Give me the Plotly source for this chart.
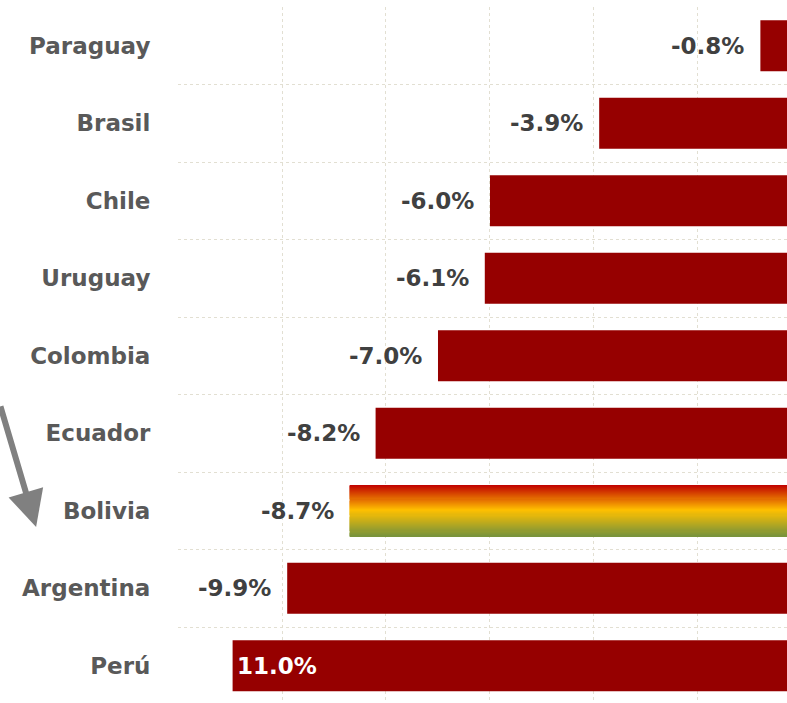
import plotly.graph_objects as go

countries = ["Paraguay", "Brasil", "Chile", "Uruguay", "Colombia", "Ecuador", "Bolivia", "Argentina", "Perú"]
values = [-0.8, -3.9, -6.0, -6.1, -7.0, -8.2, -8.7, -9.9, -10.95]
labels = ["-0.8%", "-3.9%", "-6.0%", "-6.1%", "-7.0%", "-8.2%", "-8.7%", "-9.9%", "11.0%"]
highlight = "Bolivia"
x_ticks = [-12, -10, -8, -6, -4, -2]

BAR = "#960000"
FONT = "DejaVu Sans"
ypos = list(range(len(countries)))
bar_w = 0.66

colors = [("rgba(0,0,0,0)" if c == highlight else BAR) for c in countries]

fig = go.Figure()
fig.add_trace(go.Bar(
    y=ypos, x=values, orientation="h", width=bar_w,
    marker=dict(color=colors, line=dict(width=0)),
    hoverinfo="skip", showlegend=False,
))

# gradient bar for highlighted country
stops = [(0.0, (192, 0, 0)), (0.5, (255, 192, 0)), (1.0, (119, 147, 60))]

def interp(t):
    for (t0, c0), (t1, c1) in zip(stops[:-1], stops[1:]):
        if t <= t1:
            f = (t - t0) / (t1 - t0)
            return "rgb(%d,%d,%d)" % tuple(round(a + (b - a) * f) for a, b in zip(c0, c1))
    return "rgb(%d,%d,%d)" % stops[-1][1]

hi = countries.index(highlight)
N = 48
h = bar_w / N
gy, gc = [], []
for i in range(N):
    gy.append(hi - bar_w / 2 + (i + 0.5) * h)
    gc.append(interp((i + 0.5) / N))
fig.add_trace(go.Bar(
    y=gy, x=[values[hi]] * N, orientation="h", width=[h * 1.15] * N,
    marker=dict(color=gc, line=dict(width=0)),
    hoverinfo="skip", showlegend=False,
))

# value labels
for i, (v, lab) in enumerate(zip(values, labels)):
    if i == len(values) - 1:
        fig.add_annotation(x=v, y=i, text="<b>%s</b>" % lab, showarrow=False,
                           xanchor="left", xshift=2, font=dict(family=FONT, size=23, color="white"))
    else:
        fig.add_annotation(x=v, y=i, text="<b>%s</b>" % lab, showarrow=False,
                           xanchor="right", xshift=-14, font=dict(family=FONT, size=23, color="#404040"))

# arrow
fig.add_annotation(xref="paper", yref="paper", x=-0.233, y=0.253, ax=-40, ay=-122,
                   text="", showarrow=True, arrowhead=2, arrowsize=1.2, arrowwidth=6,
                   arrowcolor="#808080")

fig.update_layout(
    width=787, height=703,
    margin=dict(l=178, r=0, t=7, b=0),
    plot_bgcolor="white", paper_bgcolor="white",
    barmode="overlay",
    xaxis=dict(range=[-12, -0.288], tickvals=x_ticks, showticklabels=False,
               showgrid=True, gridcolor="#e2dfd2", griddash="dot", gridwidth=1,
               zeroline=False, showline=False),
    yaxis=dict(range=[8.48, -0.5], tickvals=ypos, ticktext=countries,
               ticks="outside", ticklen=22, tickcolor="rgba(0,0,0,0)",
               tickfont=dict(family=FONT, size=23, color="#595959", weight="bold"),
               showgrid=False, zeroline=False, showline=False,
               minor=dict(tick0=0.5, dtick=1, showgrid=True, gridcolor="#e2dfd2",
                          griddash="dot", gridwidth=1)),
)

fig.write_html("out.html", config={"displayModeBar": False},
               post_script="document.body.style.margin='0';")
